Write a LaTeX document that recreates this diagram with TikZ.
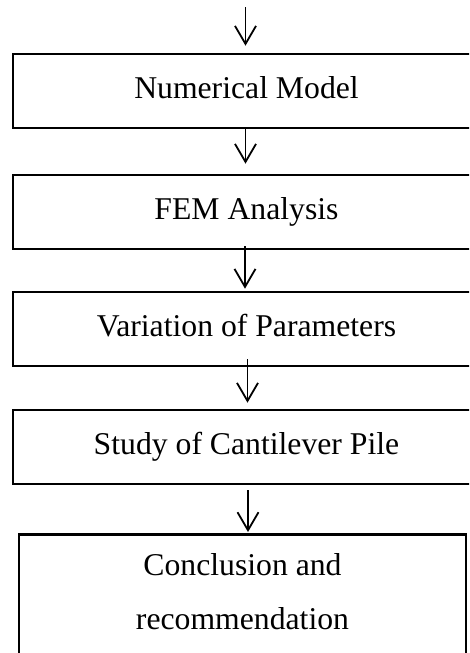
\documentclass[tikz,border=0pt]{standalone}
\usepackage{fontspec}
\setmainfont{Liberation Serif}
\usetikzlibrary{arrows.meta}
\begin{document}
\begin{tikzpicture}[x=1pt,y=-1pt,
  boxst/.style={draw, line width=2.6pt, rectangle, inner sep=0pt,
    minimum width=467pt, minimum height=74pt,
    font=\fontsize{31.7}{38}\selectfont, text height=21pt, text depth=7pt},
  arr/.style={line width=1.8pt, -{Straight Barb[length=18pt,width=21pt,line width=1.8pt]}}]
\useasboundingbox (0,0) rectangle (469,653);
\clip (0,0) rectangle (469,653);
\node[boxst] (b1) at (246.5,91) {Numerical Model};
\node[boxst] (b2) at (246.5,212) {FEM Analysis};
\node[boxst] (b3) at (246.5,329) {Variation of Parameters};
\node[boxst] (b4) at (246.5,447) {Study of Cantilever Pile};
\node[draw, line width=2.6pt, rectangle, inner xsep=0pt, inner ysep=19pt,
  minimum width=447pt, anchor=north, text height=22pt, text depth=140pt]
  (b5) at (242.5,533)
  {\parbox[t]{400pt}{\centering\fontsize{31.7}{54}\selectfont Conclusion and\\recommendation}};
\coordinate (start) at (245.5,7);
\draw[arr] (start) -- ([xshift=-1pt,yshift=7pt]b1.north);
\draw[arr] ([xshift=-1pt]b1.south) -- ([xshift=-1pt,yshift=10pt]b2.north);
\draw[arr] ([xshift=-1.5pt,yshift=4pt]b2.south) -- ([xshift=-1.5pt,yshift=2pt]b3.north);
\draw[arr] ([xshift=1pt,yshift=8pt]b3.south) -- ([xshift=1pt,yshift=6pt]b4.north);
\draw[arr] ([xshift=1.5pt,yshift=-5pt]b4.south) -- ([xshift=5.5pt,yshift=1pt]b5.north);
\end{tikzpicture}
\end{document}
